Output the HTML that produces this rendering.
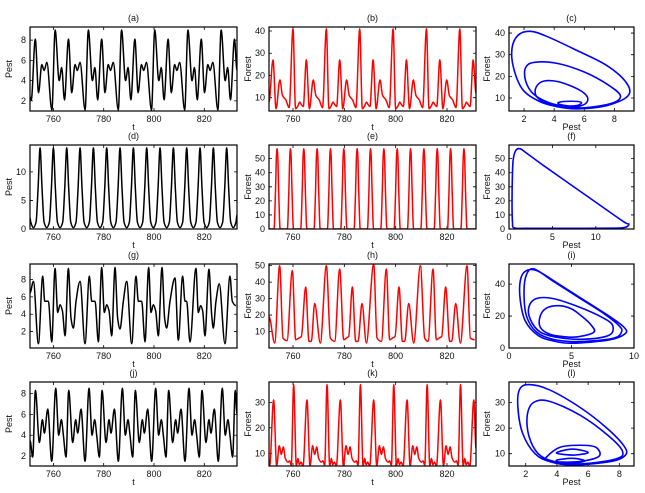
<!DOCTYPE html>
<html><head><meta charset="utf-8"><style>
html,body{margin:0;padding:0;background:#fff;}
svg{display:block;font-family:"Liberation Sans",Arial,sans-serif;}
</style></head><body>
<svg id="fig" width="645" height="493" viewBox="0 0 645 493" xmlns="http://www.w3.org/2000/svg"></svg>
<script>
// ---------- data ----------
const tA=[750.7,751.2,752.8,754.1,755.4,756.3,757.4,759.4,760.7,762.3,763.3,764.4,766.0,767.3,768.6,769.5,770.6,772.6,773.9,775.5,776.5,777.6,779.2,780.5,781.8,782.7,783.8,785.8,787.1,788.7,789.7,790.8,792.4,793.7,795.0,795.9,797.0,799.0,800.3,801.9,802.9,804.0,805.6,806.9,808.2,809.1,810.2,812.2,813.5,815.1,816.1,817.2,818.8,820.1,821.4,822.3,823.4,825.4,826.7,828.3,829.3,830.4,832.0,833.0];
const pestA=[2.4,2.1,8.1,2.8,5.6,5.0,5.8,1.1, 9.0,4.0,5.3,2.1,8.1,2.8,5.6,5.0,5.8,1.1, 9.0,4.0,5.3,2.1,8.1,2.8,5.6,5.0,5.8,1.1, 9.0,4.0,5.3,2.1,8.1,2.8,5.6,5.0,5.8,1.1, 9.0,4.0,5.3,2.1,8.1,2.8,5.6,5.0,5.8,1.1, 9.0,4.0,5.3,2.1,8.1,2.8,5.6,5.0,5.8,1.1, 9.0,4.0,5.3,2.1,8.1,5.0];
const tB=[750.65,752.2,753.4,754.9,755.9,757.2,758.5,760,761,762,762.6,763.2,764,765.2,766.4,767.9,768.9,770.2,771.5,773,774,775,775.6,776.2,777,778.2,779.4,780.9,781.9,783.2,784.5,786,787,788,788.6,789.2,790,791.2,792.4,793.9,794.9,796.2,797.5,799,800,801,801.6,802.2,803,804.2,805.4,806.9,807.9,809.2,810.5,812,813,814,814.6,815.2,816,817.2,818.4,819.9,820.9,822.2,823.5,825,826,827,827.6,828.2,829,830.2,831.3];
const forestB=[8,27,5,18,11,9,5.5, 41,5,6.5,8,7,6,27,5,18,11,9,5.5, 41,5,6.5,8,7,6,27,5,18,11,9,5.5, 41,5,6.5,8,7,6,27,5,18,11,9,5.5, 41,5,6.5,8,7,6,27,5,18,11,9,5.5, 41,5,6.5,8,7,6,27,5,18,11,9,5.5, 41,5,6.5,8,7,6,27,12];
const loopsCPest=[[5.5,7.5,8.9,8.8,7.5,5.5,3.5,2.4,1.6,1.2,1.3,1.9,3.0,4.2],[6,7.8,8.4,7.6,6,4.2,2.7,2.1,2.1,2.6,3.6,4.8],[5.5,6.1,6.2,5.6,4.3,3.3,2.8,2.8,3.4,4.5,5.5,5.8,5.1,4.3,4.4,5]];
const loopsCForest=[[5,6.5,11,17,25,32,38.5,40.8,39,33,24,14,8.5,6],[5.5,7.5,11,16,22,26,26.5,24,18,12,8,6],[6,7.5,10.5,14,17.5,17.8,15,11,8,6.5,6.5,8,8.5,8,7,6.3]];

const tD=[750.7,751.0,752.05,753.1,753.9,754.7,755.5,756.3,757.35,758.4,759.2,760.0,760.8,761.6,762.65,763.7,764.5,765.3,766.1,766.9,767.95,769.0,769.8,770.6,771.4,772.2,773.25,774.3,775.1,775.9,776.7,777.5,778.55,779.6,780.4,781.2,782.0,782.8,783.85,784.9,785.7,786.5,787.3,788.1,789.15,790.2,791.0,791.8,792.6,793.4,794.45,795.5,796.3,797.1,797.9,798.7,799.75,800.8,801.6,802.4,803.2,804.0,805.05,806.1,806.9,807.7,808.5,809.3,810.35,811.4,812.2,813.0,813.8,814.6,815.65,816.7,817.5,818.3,819.1,819.9,820.95,822.0,822.8,823.6,824.4,825.2,826.25,827.3,828.1,828.9,829.7,830.5,831.55,832.6,833.0];
const pestD=[2,1.2,0.25,1.2,7, 14.2,7,1.2,0.25,1.2,7, 14.2,7,1.2,0.25,1.2,7, 14.2,7,1.2,0.25,1.2,7, 14.2,7,1.2,0.25,1.2,7, 14.2,7,1.2,0.25,1.2,7, 14.2,7,1.2,0.25,1.2,7, 14.2,7,1.2,0.25,1.2,7, 14.2,7,1.2,0.25,1.2,7, 14.2,7,1.2,0.25,1.2,7, 14.2,7,1.2,0.25,1.2,7, 14.2,7,1.2,0.25,1.2,7, 14.2,7,1.2,0.25,1.2,7, 14.2,7,1.2,0.25,1.2,7, 14.2,7,1.2,0.25,1.2,7, 14.2,7,1.2,0.25,1.2,2.5];
const tE=[750.65,752.6,753.2,753.55,753.8,754.05,754.4,755.0,757.8,758.4,758.75,759.0,759.25,759.6,760.2,763.0,763.6,763.95,764.2,764.45,764.8,765.4,768.2,768.8,769.15,769.4,769.65,770.0,770.6,773.4,774.0,774.35,774.6,774.85,775.2,775.8,778.6,779.2,779.55,779.8,780.05,780.4,781.0,783.8,784.4,784.75,785.0,785.25,785.6,786.2,789.0,789.6,789.95,790.2,790.45,790.8,791.4,794.2,794.8,795.15,795.4,795.65,796.0,796.6,799.4,800.0,800.35,800.6,800.85,801.2,801.8,804.6,805.2,805.55,805.8,806.05,806.4,807.0,809.8,810.4,810.75,811.0,811.25,811.6,812.2,815.0,815.6,815.95,816.2,816.45,816.8,817.4,820.2,820.8,821.15,821.4,821.65,822.0,822.6,825.4,826.0,826.35,826.6,826.85,827.2,827.8,831.3];
const forestE=[0,0,28,52,57,52,28,0,0,28,52,57,52,28,0,0,28,52,57,52,28,0,0,28,52,57,52,28,0,0,28,52,57,52,28,0,0,28,52,57,52,28,0,0,28,52,57,52,28,0,0,28,52,57,52,28,0,0,28,52,57,52,28,0,0,28,52,57,52,28,0,0,28,52,57,52,28,0,0,28,52,57,52,28,0,0,28,52,57,52,28,0,0,28,52,57,52,28,0,0,28,52,57,52,28,0,0];
const loopFPest=[0.6,2,7,12,13.4,13.8,13.2,10,7,4,2,1.3,0.8,0.5,0.4,0.35,0.4];
const loopFForest=[0.8,0.5,0.5,0.6,1.2,3.5,5.2,19,32,45,54,57,56,50,40,20,5];

const tG=[750.73,752.05,754.04,755.76,756.56,758.01,759.34,760.66,761.72,762.65,763.58,764.64,765.96,767.02,767.95,769.0,770.6,772.58,774.3,775.23,776.56,777.88,779.2,780.26,781.19,782.12,783.18,784.5,785.56,786.49,787.81,789.14,791.13,792.85,793.77,795.1,796.42,797.88,798.81,799.74,800.66,801.72,803.18,804.24,805.03,806.36,808.34,809.67,811.39,812.32,812.98,814.3,816.69,817.62,818.54,819.34,820.26,821.85,822.91,823.58,824.64,825.96,828.21,830.2,831.13,832.58];
const pestG=[6.5,7.8,0.6,8.4,5.5,5.5,0.8,9.3,4.2,5.1,4.4,1.5,9.3,3.5,2.4,5.5,7.8,0.6,8.4,5.5,5.5,0.8,9.4,4.2,5.1,4.4,1.5,9.4,3.5,2.3,5.5,7.8,0.6,8.4,5.5,5.5,0.8,9.4,4.2,5.1,4.4,1.5,9.4,3.5,2.4,5.5,8.2,1,8.4,5.5,5.5,0.8,9.3,4.2,5,4.4,1.5,9.2,4,2.4,5.5,7.5,0.6,8.4,5.5,5.0];
const tH=[750.65,752.86,754.8,756.1,757.66,759.74,761.04,762.34,763.25,764.94,766.23,767.14,768.44,770.65,773.0,774.56,776.24,778.19,779.75,780.79,781.7,783.13,784.43,785.34,786.89,788.58,791.44,792.74,794.43,796.37,797.67,798.71,799.75,801.31,802.61,803.52,805.08,807.02,809.62,811.31,812.61,814.56,815.85,816.9,817.93,819.49,821.05,821.83,823.39,825.21,827.8,829.1,830.8];
const forestH=[19,3,50,6,4.5,47,5,6,7,37,4,4,27,3,50,6,4,48,5,6,7,37,4,4,27,3,51,6,4,48,5,6,7,37,4,4,27,3,50,6,4,48,5,6,7,37,4,4,27,3,50,6,5];
const loopsIPest=[[5,8,9.3,9.2,8,6,4,2.2,1.3,0.9,0.9,1.3,2.3,3.5],[5.5,8.3,9.0,8.8,7.5,5.5,3.5,2,1.4,1.2,1.4,2.2,3.5],[6,8,8.3,7.5,5.5,3.5,2.2,1.6,1.7,2.5,4],[5.5,6.8,6.5,5.8,5.0,4.0,3.0,2.5,2.5,3.3,4.5]];
const loopsIForest=[[3,5,9,13,20,30,40,48.5,48,42,30,17,8,4.5],[4,6,10,14,22,32,42,49.5,46,35,20,10,5.5],[5.5,8,14,19,26,31,31,26,18,10,6.5],[7,10,15,20,24.5,26.5,25,20,13,8.5,7]];

const tJ=[750.7,751.79,752.85,754.44,755.63,756.42,757.75,759.34,760.93,762.12,763.18,763.97,765.03,766.09,767.68,768.87,769.67,770.99,772.58,774.17,775.36,776.42,777.22,778.28,779.34,780.93,782.12,782.91,784.24,785.83,787.42,788.61,789.67,790.46,791.52,792.58,794.17,795.36,796.16,797.48,799.07,800.66,801.85,802.91,803.71,804.77,805.83,807.42,808.61,809.4,810.73,812.32,813.91,815.1,816.16,816.95,818.01,819.07,820.66,821.85,822.65,823.97,825.56,827.15,828.34,829.4,830.2,831.26,832.32,833.0];
const pestJ=[3.5,1.9,8.3,3.3,5.5,4.2,6.5,1.5, 8.5,4.0,5.5,4.0,1.9,8.3,3.3,5.5,4.2,6.5,1.5, 8.5,4.0,5.5,4.0,1.9,8.3,3.3,5.5,4.2,6.5,1.5, 8.5,4.0,5.5,4.0,1.9,8.3,3.3,5.5,4.2,6.5,1.5, 8.5,4.0,5.5,4.0,1.9,8.3,3.3,5.5,4.2,6.5,1.5, 8.5,4.0,5.5,4.0,1.9,8.3,3.3,5.5,4.2,6.5,1.5, 8.5,4.0,5.5,4.0,1.9,8.3,6];
const tK=[750.65,750.9,752.45,753.62,754.66,755.44,756.22,757.0,758.04,758.69,759.34,760.26,761.3,761.95,762.47,763.12,763.9,765.45,766.62,767.66,768.44,769.22,770.0,771.04,771.69,772.34,773.26,774.3,774.95,775.47,776.12,776.9,778.45,779.62,780.66,781.44,782.22,783.0,784.04,784.69,785.34,786.26,787.3,787.95,788.47,789.12,789.9,791.45,792.62,793.66,794.44,795.22,796.0,797.04,797.69,798.34,799.26,800.3,800.95,801.47,802.12,802.9,804.45,805.62,806.66,807.44,808.22,809.0,810.04,810.69,811.34,812.26,813.3,813.95,814.47,815.12,815.9,817.45,818.62,819.66,820.44,821.22,822.0,823.04,823.69,824.34,825.26,826.3,826.95,827.47,828.12,828.9,830.45,831.3];
const forestK=[6,5,31,5,13,9.5,12.5,8,6.5,7,5.2, 37,5,8,5.5,6.5,5,31,5,13,9.5,12.5,8,6.5,7,5.2, 37,5,8,5.5,6.5,5,31,5,13,9.5,12.5,8,6.5,7,5.2, 37,5,8,5.5,6.5,5,31,5,13,9.5,12.5,8,6.5,7,5.2, 37,5,8,5.5,6.5,5,31,5,13,9.5,12.5,8,6.5,7,5.2, 37,5,8,5.5,6.5,5,31,5,13,9.5,12.5,8,6.5,7,5.2, 37,5,8,5.5,6.5,5,31,12];
const loopsLPest=[[5,7.5,8.4,8.3,7.2,5.5,3.5,2.2,1.6,1.5,1.8,2.6,3.6],[5.5,7.8,8.2,7.3,5.5,3.5,2.5,2.1,2.2,2.8,3.8],[3.3,4.2,5.5,6.5,6.7,5.5,4,3.4],[4,5,6,5.2,4.3],[4,5,5.8,5,4.2]];
const loopsLForest=[[5.6,7,9.5,13,20,28,35,37,35,28,18,10,6.8],[6,8,11,17,25,30.5,30,25,17,10,7],[8.5,12.5,13.3,12.5,9,7,6.8,7.5],[10.5,11.8,10.5,9.5,9.8],[7.5,8.2,7.2,6.3,6.6]];

const ticksT=[760,780,800,820];
const ticksPest1=[2,4,6,8];
const ticksForest1=[10,20,30,40];
const ticksPest2=[0,5,10];
const ticksForest2=[0,10,20,30,40,50];
const ticksForest3=[10,20,30,40,50];
const ticksForest3c=[0,20,40];
const ticksPestPhase3=[0,5,10];
const ticksForest4=[10,20,30];
const ticksPestPhase=[2,4,6,8];

// ---------- drawing ----------
const NS="http://www.w3.org/2000/svg";
const svg=document.getElementById('fig');
function mk(tag,attrs,parent){const e=document.createElementNS(NS,tag);for(const k in attrs)e.setAttribute(k,attrs[k]);(parent||svg).appendChild(e);return e;}
const COLX=[[30,237],[269,476],[509,634]];
const ROWY=[[27,111],[145,229],[264,348],[382,466]];
const YLABX=[12,251,490];
let clipN=0;

function panel(letter,col,row,xd,yd,xt,yt,xlab,ylab){
  const x0=COLX[col][0],x1=COLX[col][1],y0=ROWY[row][0],y1=ROWY[row][1];
  const g=mk('g',{});
  
  
  const sx=v=>x0+(v-xd[0])/(xd[1]-xd[0])*(x1-x0);
  const sy=v=>y1-(v-yd[0])/(yd[1]-yd[0])*(y1-y0);
  const id='clip'+(clipN++);
  const cp=mk('clipPath',{id:id},g);mk('rect',{x:x0,y:y0,width:x1-x0,height:y1-y0},cp);
  const title=mk('text',{x:(x0+x1)/2,y:y0-6,'font-size':9,'text-anchor':'middle',fill:'#111'},g);
  title.textContent='('+letter+')';
  
  
  for(const v of xt){const X=sx(v);
    const tk=mk('path',{d:`M${X},${y1}v-3M${X},${y0}v3`,stroke:'#000','stroke-width':0.8},g);
    
    
    const t=mk('text',{x:X,y:y1+11,'font-size':9,'text-anchor':'middle',fill:'#111'},g);t.textContent=v;
    
    }
  for(const v of yt){const Y=sy(v);
    const tk=mk('path',{d:`M${x0},${Y}h3M${x1},${Y}h-3`,stroke:'#000','stroke-width':0.8},g);
    
    
    const t=mk('text',{x:x0-4,y:Y+3,'font-size':9,'text-anchor':'end',fill:'#111'},g);t.textContent=v;
    
    }
  const xl=mk('text',{x:(x0+x1)/2,y:y1+19,'font-size':9,'text-anchor':'middle',fill:'#111'},g);xl.textContent=xlab;
  
  
  const yc=(y0+y1)/2;
  const yl=mk('text',{x:YLABX[col],y:yc,'font-size':9,'text-anchor':'middle',fill:'#111',transform:`rotate(-90 ${YLABX[col]} ${yc})`},g);yl.textContent=ylab;
  
  
  const layer=mk('g',{'clip-path':`url(#${id})`},g);
  const fr=mk('rect',{x:x0,y:y0,width:x1-x0,height:y1-y0,fill:'none',stroke:'#000','stroke-width':1.2},g);
  
  
  return {sx,sy,layer};
}

function seriesPath(p,ts,vs,color,name){
  const n=ts.length,d=[],m=[];
  for(let i=0;i<n-1;i++)d.push((vs[i+1]-vs[i])/(ts[i+1]-ts[i]));
  for(let i=0;i<n;i++){
    if(i===0)m.push(0);else if(i===n-1)m.push(0);
    else{const d0=d[i-1],d1=d[i];
      if(d0*d1<=0)m.push(0);
      else{const h0=ts[i]-ts[i-1],h1=ts[i+1]-ts[i];m.push(3*(h0+h1)/((2*h1+h0)/d0+(h1+2*h0)/d1));}}
  }
  let s=`M${p.sx(ts[0]).toFixed(2)},${p.sy(vs[0]).toFixed(2)}`;
  for(let i=0;i<n-1;i++){const h=ts[i+1]-ts[i];
    s+=`C${p.sx(ts[i]+h/3).toFixed(2)},${p.sy(vs[i]+m[i]*h/3).toFixed(2)} ${p.sx(ts[i+1]-h/3).toFixed(2)},${p.sy(vs[i+1]-m[i+1]*h/3).toFixed(2)} ${p.sx(ts[i+1]).toFixed(2)},${p.sy(vs[i+1]).toFixed(2)}`;}
  const e=mk('path',{d:s,fill:'none',stroke:color,'stroke-width':1.5,'stroke-linejoin':'round'},p.layer);
  
  
}

function loopPath(p,xsArr,ysArr,name){
  let s='';
  for(let L=0;L<xsArr.length;L++){
    const pts=xsArr[L].map((x,i)=>[p.sx(x),p.sy(ysArr[L][i])]);const n=pts.length;
    s+=`M${pts[0][0].toFixed(2)},${pts[0][1].toFixed(2)}`;
    for(let i=0;i<n;i++){const a=pts[(i-1+n)%n],b=pts[i],c=pts[(i+1)%n],dd=pts[(i+2)%n];
      s+=`C${(b[0]+(c[0]-a[0])/6).toFixed(2)},${(b[1]+(c[1]-a[1])/6).toFixed(2)} ${(c[0]-(dd[0]-b[0])/6).toFixed(2)},${(c[1]-(dd[1]-b[1])/6).toFixed(2)} ${c[0].toFixed(2)},${c[1].toFixed(2)}`;}
  }
  const e=mk('path',{d:s,fill:'none',stroke:'#0000ff','stroke-width':1.6,'stroke-linejoin':'round'},p.layer);
  
  
}

const X1=[750.7,833],X2=[750.65,831.3];
let p;
p=panel('a',0,0,X1,[1.0,9.3],ticksT,ticksPest1,'t','Pest'); seriesPath(p,tA,pestA,'#000','pest-series-a');
p=panel('b',1,0,X2,[4,41.8],ticksT,ticksForest1,'t','Forest'); seriesPath(p,tB,forestB,'#ff0000','forest-series-b');
p=panel('c',2,0,[1,9.3],[4,42.8],ticksPestPhase,ticksForest1,'Pest','Forest'); loopPath(p,loopsCPest,loopsCForest,'phase-curve-c');
p=panel('d',0,1,X1,[0,14.7],ticksT,ticksPest2,'t','Pest'); seriesPath(p,tD,pestD,'#000','pest-series-d');
p=panel('e',1,1,X2,[0,59.7],ticksT,ticksForest2,'t','Forest'); seriesPath(p,tE,forestE,'#ff0000','forest-series-e');
p=panel('f',2,1,[0,14.4],[0,59.7],ticksPestPhase3,ticksForest2,'Pest','Forest'); loopPath(p,[loopFPest],[loopFForest],'phase-curve-f');
p=panel('g',0,2,X1,[0.1,9.8],ticksT,ticksPest1,'t','Pest'); seriesPath(p,tG,pestG,'#000','pest-series-g');
p=panel('h',1,2,X2,[0,51],ticksT,ticksForest3,'t','Forest'); seriesPath(p,tH,forestH,'#ff0000','forest-series-h');
p=panel('i',2,2,[0,10],[0,52.6],ticksPestPhase3,ticksForest3c,'Pest','Forest'); loopPath(p,loopsIPest,loopsIForest,'phase-curve-i');
p=panel('j',0,3,X1,[1.05,9.1],ticksT,ticksPest1,'t','Pest'); seriesPath(p,tJ,pestJ,'#000','pest-series-j');
p=panel('k',1,3,X2,[5,38],ticksT,ticksForest4,'t','Forest'); seriesPath(p,tK,forestK,'#ff0000','forest-series-k');
p=panel('l',2,3,[0.93,8.94],[5.2,38],ticksPestPhase,ticksForest4,'Pest','Forest'); loopPath(p,loopsLPest,loopsLForest,'phase-curve-l');
</script>
</body></html>
